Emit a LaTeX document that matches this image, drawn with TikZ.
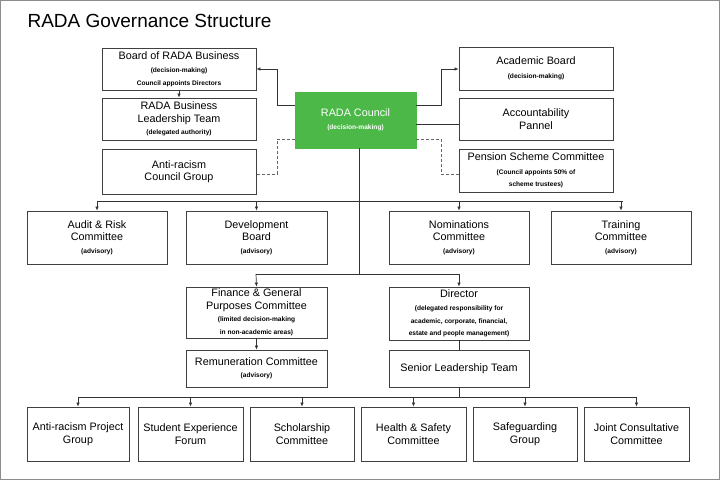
\documentclass[tikz,border=0pt]{standalone}
\usepackage{fontspec}
\setmainfont{Liberation Sans}
\usetikzlibrary{arrows.meta}
\definecolor{rgreen}{HTML}{4CB848}
\begin{document}
\begin{tikzpicture}[x=1pt,y=-1pt,
 box/.style={draw=black!75,line width=0.8pt,inner sep=0pt,align=center,font=\fontsize{10.8}{12.5}\selectfont},
 arr/.style={draw=black!80,line width=0.7pt,-{Latex[length=4pt,width=3.5pt]}},
 ln/.style={draw=black!80,line width=0.7pt},
 dsh/.style={draw=black!60,line width=0.7pt,dash pattern=on 3pt off 2pt}]
\newcommand{\sm}[1]{{\fontsize{6.6}{8.5}\selectfont\bfseries #1}}
\newcommand{\bx}[6]{\node[box,#6,minimum width=#3-#1,minimum height=#4-#2] (#5) at ({(#1+#3)/2},{(#2+#4)/2})}
\draw[black!45,line width=1pt,fill=white] (0.5,0.5) rectangle (719.5,479.5);
\useasboundingbox (0,0) rectangle (720,480);
\node[anchor=west,font=\fontsize{19}{22}\selectfont] (title) at (24,21) {RADA Governance Structure};
\bx{102}{48}{256}{90}{board}{}{Board of RADA Business\\[1pt]\sm{(decision-making)}\\\sm{Council appoints Directors}};
\bx{102}{98}{256}{140}{blt}{}{RADA Business\\Leadership Team\\\sm{(delegated authority)}};
\bx{102}{149}{256}{194}{arcg}{}{Anti-racism\\Council Group};
\bx{295}{92}{416}{148}{council}{fill=rgreen,draw=rgreen,text=white}{RADA Council\\[1pt]\sm{(decision-making)}};
\bx{459}{47}{613}{90}{acad}{}{Academic Board\\[1pt]\sm{(decision-making)}};
\bx{459}{98}{613}{140}{acc}{}{Accountability\\Pannel};
\bx{459}{149}{613}{192}{pen}{}{Pension Scheme Committee\\[1pt]\sm{(Council appoints 50\% of}\\\sm{scheme trustees)}};
\bx{27}{211}{167}{264}{audit}{}{Audit \& Risk\\Committee\\\sm{(advisory)}};
\bx{186}{211}{327}{264}{dev}{}{Development\\Board\\\sm{(advisory)}};
\bx{389}{211}{529}{264}{nom}{}{Nominations\\Committee\\\sm{(advisory)}};
\bx{551}{211}{691}{264}{train}{}{Training\\Committee\\\sm{(advisory)}};
\bx{186}{287}{327}{338}{fin}{}{Finance \& General\\Purposes Committee\\\sm{(limited decision-making}\\\sm{in non-academic areas)}};
\bx{389}{287}{529}{340}{dir}{}{Director\\[1pt]\sm{(delegated responsibility for}\\\sm{academic, corporate, financial,}\\\sm{estate and people management)}};
\bx{186}{350}{327}{387}{rem}{}{Remuneration Committee\\\sm{(advisory)}};
\bx{389}{350}{529}{387}{slt}{}{Senior Leadership Team};
\bx{27}{407}{129}{461}{b1}{}{Anti-racism Project\\Group};
\bx{138}{407}{243}{461}{b2}{}{Student Experience\\Forum};
\bx{250}{407}{354}{461}{b3}{}{Scholarship\\Committee};
\bx{361}{407}{466}{461}{b4}{}{Health \& Safety\\Committee};
\bx{473}{407}{577}{461}{b5}{}{Safeguarding\\Group};
\bx{584}{407}{689}{461}{b6}{}{Joint Consultative\\Committee};
% top connectors
\draw[arr] (council.west |- 0,105) -- (277,105) -- (277,69) -- (board.east |- 0,69);
\draw[arr] (council.east |- 0,105) -- (441,105) -- (441,69) -- (acad.west |- 0,69);
\draw[ln] (council.east |- 0,124) -- (acc.west |- 0,124);
\draw[dsh] (council.west |- 0,139) -- (277,139) -- (277,174) -- (arcg.east |- 0,174);
\draw[dsh] (council.east |- 0,139) -- (441,139) -- (441,174) -- (pen.west |- 0,174);
\draw[arr] (board.south -| 179,0) -- (blt.north -| 179,0);
% trunk
\coordinate (t1) at (359,201);
\coordinate (t2) at (359,274);
\draw[ln] (council.south -| 359,0) -- (t2);
\draw[ln] (97,201) -- (623,201);
\foreach \n in {audit,dev} \draw[arr] (\n.north |- t1) -- (\n.north);
\draw[arr] (459,201) -- (nom.north -| 459,0);
\draw[arr] (621,201) -- (train.north);
\draw[ln] (256,274) -- (459,274);
\draw[arr] (256,274) -- (fin.north);
\draw[arr] (459,274) -- (dir.north);
\draw[arr] (fin.south) -- (rem.north);
\draw[ln] (dir.south) -- (slt.north);
\draw[ln] (slt.south) -- (459,397);
\draw[ln] (b1.north |- 0,397) -- (b6.north |- 0,397);
\foreach \n in {b1,b2,b3,b4,b5,b6} \draw[arr] (\n.north |- 0,397) -- (\n.north);
\end{tikzpicture}
\end{document}
